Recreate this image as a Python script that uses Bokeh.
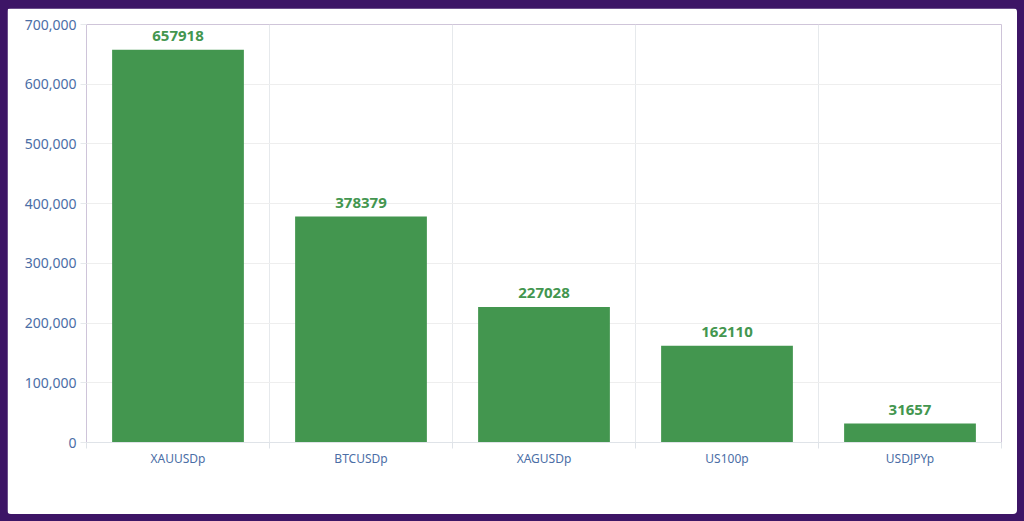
from bokeh.plotting import figure
from bokeh.models import ColumnDataSource, FixedTicker, NumeralTickFormatter, Range1d, LabelSet
from bokeh.core.properties import value
from bokeh.embed import file_html
from bokeh.resources import INLINE

categories = ["XAUUSDp", "BTCUSDp", "XAGUSDp", "US100p", "USDJPYp"]
values = [657918, 378379, 227028, 162110, 31657]
y_ticks = [0, 100000, 200000, 300000, 400000, 500000, 600000, 700000]

BAR = "#43964f"
LABEL_BLUE = "#4b6ea6"
FONT = "Noto Sans"

xs = [i + 0.5 for i in range(len(categories))]
src = ColumnDataSource(dict(x=xs, top=values, label=[str(v) for v in values]))

p = figure(width=1010, height=506, output_backend="svg", toolbar_location=None,
           x_range=Range1d(0, len(categories)), y_range=Range1d(0, 700000),
           min_border_left=79, min_border_right=16, min_border_top=16, min_border_bottom=72)
p.background_fill_color = "white"
p.border_fill_color = "white"
p.outline_line_color = None
p.styles = {"border-radius": "4px", "overflow": "hidden"}

p.vbar(x="x", top="top", width=0.72, bottom=0, source=src, fill_color=BAR, line_color=None)

labels = LabelSet(x="x", y="top", text="label", source=src, text_align="center",
                  text_baseline="bottom", y_offset=9, text_color=BAR,
                  text_font=value(FONT), text_font_size="15px", text_font_style="bold")
p.add_layout(labels)

# x axis
p.xaxis.ticker = FixedTicker(ticks=xs, minor_ticks=list(range(len(categories) + 1)))
p.xaxis.major_label_overrides = {x: c for x, c in zip(xs, categories)}
p.xaxis.major_tick_line_color = None
p.xaxis.major_tick_out = 0
p.xaxis.major_tick_in = 0
p.xaxis.minor_tick_line_color = "#dfe3e8"
p.xaxis.minor_tick_out = 6
p.xaxis.minor_tick_in = 0
p.xaxis.axis_line_color = "#dfe3e8"
p.xaxis.major_label_text_color = LABEL_BLUE
p.xaxis.major_label_text_font = FONT
p.xaxis.major_label_text_font_size = "12px"
p.xaxis.major_label_standoff = 1

# y axis
p.yaxis.ticker = FixedTicker(ticks=y_ticks)
p.yaxis.formatter = NumeralTickFormatter(format="0,0")
p.yaxis.axis_line_color = None
p.yaxis.major_tick_line_color = "#e6e9ec"
p.yaxis.major_tick_out = 6
p.yaxis.major_tick_in = 0
p.yaxis.minor_tick_line_color = None
p.yaxis.major_label_text_color = LABEL_BLUE
p.yaxis.major_label_text_font = FONT
p.yaxis.major_label_text_font_size = "14px"
p.yaxis.major_label_standoff = 4

# grids
p.xgrid.ticker = FixedTicker(ticks=list(range(len(categories) + 1)))
p.xgrid.grid_line_color = "#e6e9ec"
p.ygrid.grid_line_color = "#eeeeee"

html = file_html(p, INLINE)
style = ("<style>html{background:#3d1566 !important;}"
         "body{background:#3d1566 !important; margin:8px 0 0 7px !important; padding:0 !important;}</style>")
html = html.replace("</head>", style + "</head>", 1)
open("out.html", "w").write(html)
